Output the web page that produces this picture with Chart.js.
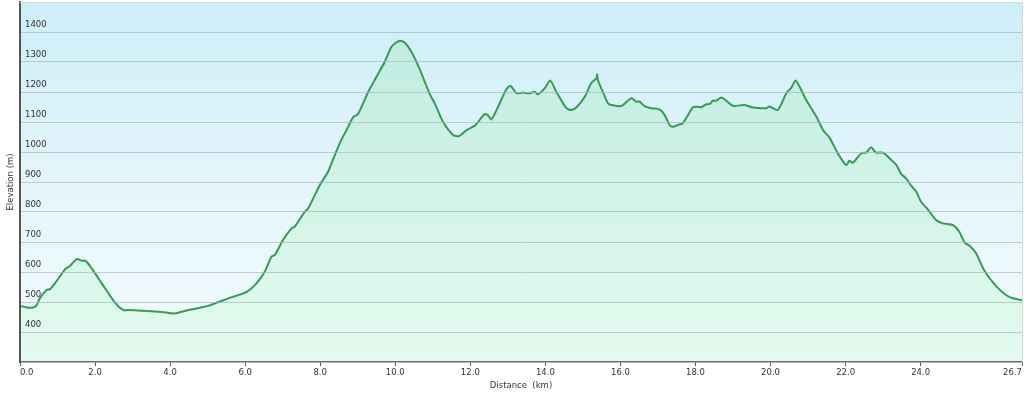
<!DOCTYPE html>
<html>
<head>
<meta charset="utf-8">
<script src="https://cdn.jsdelivr.net/npm/chart.js@4.4.1/dist/chart.umd.min.js"></script>
<style>
  html, body { margin: 0; padding: 0; background: #ffffff; }
  #wrap { width: 1024px; height: 395px; position: relative; }
</style>
</head>
<body>
<div id="wrap"><canvas id="c" width="1024" height="395"></canvas></div>
<script>
const distanceKm = [
  0.00, 0.19, 0.35, 0.44, 0.53, 0.71, 0.80, 0.93, 1.20, 1.33, 1.51, 1.64, 1.75, 1.91,
  2.18, 2.53, 2.75, 2.88, 3.24, 3.77, 4.13, 4.48, 5.01, 5.55, 6.04, 6.30, 6.52, 6.70,
  6.79, 7.01, 7.24, 7.32, 7.59, 7.68, 7.99, 8.21, 8.30, 8.52, 8.70, 8.88, 9.01, 9.28,
  9.50, 9.72, 9.90, 10.03, 10.12, 10.25, 10.43, 10.65, 10.92, 11.05, 11.27, 11.54,
  11.70, 11.90, 12.12, 12.25, 12.38, 12.47, 12.56, 12.74, 12.96, 13.07, 13.23, 13.40,
  13.58, 13.72, 13.80, 13.98, 14.13, 14.29, 14.56, 14.69, 14.83, 15.05, 15.22, 15.36,
  15.38, 15.40, 15.49, 15.67, 15.76, 16.02, 16.29, 16.42, 16.51, 16.64, 16.82, 17.04,
  17.18, 17.31, 17.40, 17.53, 17.66, 17.80, 17.93, 18.06, 18.15, 18.29, 18.38, 18.46,
  18.55, 18.69, 18.82, 19.00, 19.31, 19.53, 19.89, 19.97, 20.19, 20.42, 20.55, 20.67,
  20.86, 20.95, 21.22, 21.40, 21.57, 21.79, 21.97, 22.03, 22.10, 22.19, 22.42, 22.55,
  22.68, 22.81, 22.99, 23.17, 23.35, 23.48, 23.61, 23.75, 23.88, 24.01, 24.19, 24.41,
  24.59, 24.86, 25.03, 25.17, 25.31, 25.48, 25.70, 26.01, 26.37, 26.70
];
const elevationM = [
  487, 482, 482, 489, 513, 540, 543, 562, 609, 620, 643, 638, 637, 612,
  562, 498, 473, 473, 471, 467, 462, 473, 487, 512, 534, 562, 601, 651,
  657, 707, 746, 751, 801, 812, 890, 934, 962, 1029, 1073, 1116, 1127, 1201,
  1251, 1301, 1351, 1365, 1371, 1365, 1334, 1276, 1193, 1162, 1101, 1057,
  1053, 1073, 1088, 1107, 1126, 1122, 1109, 1151, 1209, 1221, 1196, 1198,
  1196, 1201, 1192, 1212, 1238, 1201, 1146, 1140, 1149, 1184, 1229, 1246,
  1258, 1240, 1212, 1162, 1157, 1153, 1179, 1168, 1168, 1153, 1146, 1142,
  1123, 1090, 1084, 1090, 1096, 1123, 1149, 1151, 1149, 1159, 1160, 1171,
  1171, 1182, 1171, 1154, 1157, 1148, 1146, 1152, 1140, 1196, 1214, 1238,
  1196, 1173, 1118, 1073, 1048, 996, 962, 957, 971, 964, 996, 998,
  1016, 998, 998, 979, 957, 927, 912, 887, 868, 834, 809, 773,
  762, 756, 734, 698, 687, 662, 604, 553, 516, 506
];
const xTickValues = [0, 2, 4, 6, 8, 10, 12, 14, 16, 18, 20, 22, 24, 26.7];
const yTickLabels = [400, 500, 600, 700, 800, 900, 1000, 1100, 1200, 1300, 1400];
const xTitle = 'Distance  (km)';
const yTitle = 'Elevation (m)';

const FONT = 'DejaVu Sans, Verdana, sans-serif';

const backgroundPlugin = {
  id: 'bgPlugin',
  beforeDraw(chart) {
    const { ctx, chartArea: a } = chart;
    ctx.save();
    const g = ctx.createLinearGradient(0, a.top, 0, a.bottom);
    g.addColorStop(0, '#cdeef9');
    g.addColorStop(0.55, '#e6f6fb');
    g.addColorStop(1, '#f3fbfd');
    ctx.fillStyle = g;
    ctx.fillRect(a.left, a.top, a.right - a.left, a.bottom - a.top);
    ctx.restore();
  },
  afterDraw(chart) {
    const { ctx, chartArea: a } = chart;
    ctx.save();
    ctx.strokeStyle = '#d4dadc';
    ctx.lineWidth = 1;
    ctx.beginPath();
    ctx.moveTo(a.left, a.top + 0.5);
    ctx.lineTo(a.right + 0.5, a.top + 0.5);
    ctx.lineTo(a.right + 0.5, a.bottom);
    ctx.stroke();
    ctx.fillStyle = '#333333';
    ctx.font = '8.5px ' + FONT;
    ctx.textAlign = 'center';
    ctx.textBaseline = 'middle';
    ctx.fillText(xTitle, (a.left + a.right) / 2, 386);
    ctx.translate(11, (a.top + a.bottom) / 2);
    ctx.rotate(-Math.PI / 2);
    ctx.fillText(yTitle, 0, 0);
    ctx.restore();
  }
};

const ctx = document.getElementById('c').getContext('2d');
const fillGrad = ctx.createLinearGradient(0, 30, 0, 362);
fillGrad.addColorStop(0, 'rgba(170,232,196,0.45)');
fillGrad.addColorStop(1, 'rgba(215,250,228,0.55)');

new Chart(ctx, {
  type: 'line',
  data: {
    datasets: [{
      data: distanceKm.map((d, i) => ({ x: d, y: elevationM[i] })),
      borderColor: '#389a55',
      borderWidth: 2,
      pointRadius: 0,
      tension: 0.25,
      fill: 'start',
      backgroundColor: fillGrad
    }]
  },
  options: {
    responsive: false,
    animation: false,
    layout: { padding: { top: 2, right: 2, left: 0, bottom: 0 } },
    plugins: { legend: { display: false }, tooltip: { enabled: false } },
    scales: {
      x: {
        type: 'linear',
        min: 0,
        max: 26.7,
        afterBuildTicks(scale) { scale.ticks = xTickValues.map(v => ({ value: v })); },
        afterFit(scale) { scale.height = 33; scale.paddingLeft = 0; scale.paddingRight = 0; },
        grid: { drawOnChartArea: false, drawTicks: true, tickLength: 4, tickColor: '#555555', tickWidth: 1, z: 1 },
        border: { display: true, color: '#6a6a6a', width: 1.5, z: 1 },
        ticks: {
          z: 1,
          align: 'inner',
          maxRotation: 0,
          autoSkip: false,
          padding: 2,
          color: '#333333',
          font: { family: FONT, size: 8.5 },
          callback: v => Number(v).toFixed(1)
        }
      },
      y: {
        min: 300,
        max: 1500,
        afterBuildTicks(scale) { scale.ticks = [300].concat(yTickLabels, [1500]).map(v => ({ value: v })); },
        afterFit(scale) { scale.width = 20; scale.paddingTop = 0; scale.paddingBottom = 0; },
        grid: {
          z: 1,
          drawTicks: false,
          color: c => (yTickLabels.indexOf(c.tick.value) >= 0 ? 'rgba(170,185,190,0.7)' : 'rgba(0,0,0,0)'),
          lineWidth: 1
        },
        border: { display: true, color: '#555555', width: 2, z: 1 },
        ticks: {
          z: 2,
          mirror: true,
          padding: 5,
          labelOffset: -7,
          color: '#333333',
          font: { family: FONT, size: 8.5 },
          callback: v => (yTickLabels.indexOf(v) >= 0 ? String(v) : '')
        }
      }
    }
  },
  plugins: [backgroundPlugin]
});
</script>
</body>
</html>
